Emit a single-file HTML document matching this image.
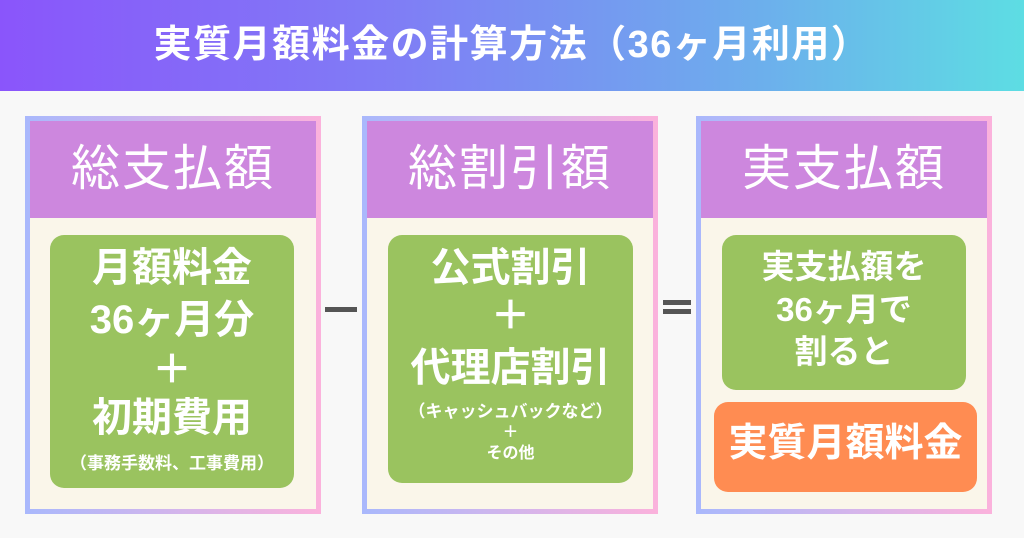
<!DOCTYPE html>
<html><head><meta charset="utf-8"><style>
*{margin:0;padding:0;box-sizing:border-box}
body{width:1024px;height:538px;background:#f8f8f8;position:relative;overflow:hidden;font-family:"Liberation Sans","Noto Sans CJK JP",sans-serif}
.hdr{position:absolute;left:0;top:0;width:1024px;height:91px;background:linear-gradient(90deg,#8a55fb,#7f7ff5 40%,#6cb0ec 75%,#5ddde3);color:#fff;font-weight:bold;font-size:38px;text-align:center;line-height:91px;letter-spacing:1.5px}
.panel{position:absolute;top:116px;width:296px;height:398px;background:linear-gradient(90deg,#a9b8fc,#fbb2dc);padding:5px}
.inner{position:relative;width:100%;height:100%;background:#faf6ea}
.ph{position:absolute;left:0;top:0;right:0;height:97px;background:#cd87de;color:#fff;font-size:49px;text-align:center;line-height:97px;letter-spacing:2px;font-weight:normal}
.box{position:absolute;border-radius:14px;color:#fff;font-weight:bold}
.g{background:#9ac35f}
.t{position:absolute;left:0;right:0;text-align:center;white-space:nowrap}
.op{position:absolute;background:#555;height:5px}
</style></head><body>
<div class="hdr">実質月額料金の計算方法（36ヶ月利用）</div>

<div class="panel" style="left:25px"><div class="inner"><div class="ph">総支払額</div></div></div>
<div class="box g" style="left:50px;top:235px;width:244px;height:253px">
<div class="t" style="top:11px;font-size:40px;line-height:44px">月額料金</div>
<div class="t" style="top:63px;font-size:40px;line-height:44px">36ヶ月分</div>
<div class="t" style="top:113px;font-size:40px;line-height:44px">＋</div>
<div class="t" style="top:161px;font-size:40px;line-height:44px">初期費用</div>
<div class="t" style="top:218px;font-size:17px;line-height:22px">（事務手数料、工事費用）</div>
</div>

<div class="op" style="left:325px;top:307px;width:32px"></div>

<div class="panel" style="left:362px"><div class="inner"><div class="ph">総割引額</div></div></div>
<div class="box g" style="left:388px;top:235px;width:245px;height:248px">
<div class="t" style="top:11px;font-size:40px;line-height:44px">公式割引</div>
<div class="t" style="top:59px;font-size:40px;line-height:44px">＋</div>
<div class="t" style="top:111px;font-size:40px;line-height:44px">代理店割引</div>
<div class="t" style="top:166px;font-size:17px;line-height:22px">（キャッシュバックなど）</div>
<div class="t" style="top:188px;font-size:16px;line-height:20px">＋</div>
<div class="t" style="top:209px;font-size:16px;line-height:20px">その他</div>
</div>

<div class="op" style="left:663px;top:300px;width:28px"></div>
<div class="op" style="left:663px;top:309px;width:28px"></div>

<div class="panel" style="left:696px"><div class="inner"><div class="ph">実支払額</div></div></div>
<div class="box g" style="left:722px;top:235px;width:244px;height:155px">
<div class="t" style="top:13px;font-size:33px;line-height:38px">実支払額を</div>
<div class="t" style="top:56px;font-size:33px;line-height:38px">36ヶ月で</div>
<div class="t" style="top:98px;font-size:33px;line-height:38px">割ると</div>
</div>
<div class="box" style="left:714px;top:402px;width:263px;height:90px;background:#ff8c52">
<div class="t" style="top:19px;font-size:39px;line-height:46px">実質月額料金</div>
</div>
</body></html>
